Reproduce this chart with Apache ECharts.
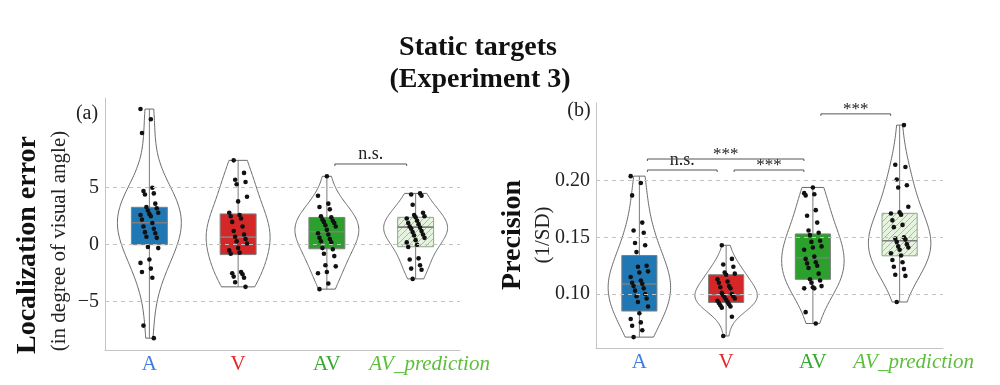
<!DOCTYPE html>
<html><head><meta charset="utf-8">
<script src="https://cdn.jsdelivr.net/npm/echarts@6/dist/echarts.min.js"></script>
<style>html,body{margin:0;padding:0;background:#fff}#c{width:1000px;height:385px}</style>
</head><body><div id="c"></div>
<script>
const categories = ['A', 'V', 'AV', 'AV_prediction'];

// Panel (a): localization error (deg)
const locA = [11.9, 11.0, 9.8, 5.0, 4.7, 4.5, 4.4, 3.6, 3.3, 3.2, 3.0, 2.8, 2.7, 2.6, 2.5, 2.2, 1.9, 1.6, 1.4, 1.1, 1.0, 0.7, 0.6, -0.2, -0.3, -1.3, -1.6, -2.1, -2.4, -2.9, -7.1, -8.2];
const locV = [7.4, 6.3, 5.7, 5.5, 5.3, 4.2, 3.8, 2.8, 2.6, 2.5, 2.3, 2.0, 1.6, 1.2, 0.9, 0.7, 0.5, 0.3, 0.1, -0.3, -0.5, -0.7, -0.8, -2.4, -2.5, -2.6, -2.8, -2.9, -3.3, -3.7];
const locAV = [6.0, 4.3, 3.6, 3.3, 3.1, 2.5, 2.4, 2.2, 2.1, 2.0, 1.9, 1.7, 1.6, 1.3, 1.0, 0.9, 0.6, 0.5, 0.3, 0.2, -0.3, -0.4, -0.8, -1.0, -1.8, -1.9, -2.4, -2.5, -3.4, -3.9];
const locAVP = [4.5, 4.4, 4.3, 3.5, 2.8, 2.6, 2.5, 2.4, 2.3, 2.1, 1.9, 1.8, 1.6, 1.5, 1.4, 1.2, 1.1, 0.9, 0.8, 0.6, 0.4, 0.2, 0.0, -0.2, -1.2, -1.3, -1.8, -2.1, -2.2, -3.0];
const locQ1 = [0.0, -0.87, -0.36, -0.18];
const locMedian = [1.93, 0.66, 1.13, 1.54];
const locQ3 = [3.28, 2.7, 2.39, 2.4];
const locTicks = [-5, 0, 5];
const locSigFrom = [2];
const locSigTo = [3];
const locSigLevel = [7.08];
const locSigText = ['n.s.'];

// Panel (b): precision (1/SD)
const precA = [0.204, 0.198, 0.187, 0.163, 0.156, 0.154, 0.145, 0.143, 0.137, 0.125, 0.124, 0.120, 0.119, 0.115, 0.112, 0.110, 0.109, 0.107, 0.105, 0.103, 0.100, 0.098, 0.096, 0.093, 0.089, 0.083, 0.078, 0.075, 0.072, 0.068, 0.062];
const precV = [0.143, 0.131, 0.126, 0.124, 0.119, 0.118, 0.117, 0.113, 0.111, 0.110, 0.107, 0.106, 0.105, 0.101, 0.100, 0.099, 0.098, 0.097, 0.096, 0.095, 0.094, 0.093, 0.092, 0.091, 0.090, 0.089, 0.088, 0.080, 0.063];
const precAV = [0.194, 0.189, 0.188, 0.187, 0.174, 0.169, 0.163, 0.156, 0.154, 0.152, 0.147, 0.146, 0.142, 0.141, 0.139, 0.133, 0.131, 0.128, 0.127, 0.125, 0.123, 0.118, 0.113, 0.112, 0.110, 0.107, 0.106, 0.105, 0.105, 0.084, 0.074];
const precAVP = [0.249, 0.214, 0.212, 0.201, 0.196, 0.194, 0.177, 0.172, 0.171, 0.170, 0.165, 0.161, 0.159, 0.150, 0.149, 0.148, 0.146, 0.144, 0.142, 0.141, 0.139, 0.136, 0.134, 0.130, 0.128, 0.124, 0.122, 0.117, 0.116, 0.093];
const precQ1 = [0.085, 0.0925, 0.113, 0.1337];
const precMedian = [0.1088, 0.0993, 0.132, 0.147];
const precQ3 = [0.134, 0.117, 0.153, 0.1712];
const precTicks = [0.10, 0.15, 0.20];
const precSigFrom = [0, 1, 0, 2];
const precSigTo = [1, 2, 2, 3];
const precSigLevel = [0.2094, 0.2094, 0.2191, 0.2589];
const precSigText = ['n.s.', '***', '***', '***'];

const SERIF = 'Liberation Serif';
const boxColors = ['#1f77b4', '#d62728', '#2ca02c', null];
const labelColors = ['#3f7be0', '#e3262a', '#35a82f', '#5cbf3a'];

function hatchCanvas() {
  const c = document.createElement('canvas');
  c.width = 6; c.height = 6;
  const g = c.getContext('2d');
  g.fillStyle = '#e5f3df'; g.fillRect(0, 0, 6, 6);
  g.strokeStyle = '#8fcd88'; g.lineWidth = 1;
  g.beginPath();
  g.moveTo(0, 6); g.lineTo(6, 0);
  g.moveTo(-1, 1); g.lineTo(1, -1);
  g.moveTo(5, 7); g.lineTo(7, 5);
  g.stroke();
  return c;
}
const hatch = { image: hatchCanvas(), repeat: 'repeat' };

function kde(vals, steps) {
  const n = vals.length;
  const mean = vals.reduce((a, b) => a + b, 0) / n;
  const sd = Math.sqrt(vals.reduce((a, b) => a + (b - mean) * (b - mean), 0) / (n - 1));
  const bw = 1.25 * sd * Math.pow(n, -0.2);
  const lo = Math.min(...vals), hi = Math.max(...vals);
  const out = [];
  let mx = 0;
  for (let i = 0; i <= steps; i++) {
    const v = lo + (hi - lo) * i / steps;
    let d = 0;
    for (const x of vals) { const z = (v - x) / bw; d += Math.exp(-0.5 * z * z); }
    out.push([v, d]);
    if (d > mx) mx = d;
  }
  return out.map(([v, d]) => [v, d / mx]);
}

function violinRender(groups) {
  return function (params, api) {
    const ci = api.value(0);
    const dens = kde(groups[ci], 100);
    const band = api.size([1, 0])[0];
    const hw = band * 0.36;
    const cx = api.coord([ci, 0])[0];
    const left = [], right = [];
    dens.forEach(([v, d]) => {
      const y = api.coord([ci, v])[1];
      left.push([cx - d * hw, y]);
      right.push([cx + d * hw, y]);
    });
    return { type: 'polygon', shape: { points: left.concat(right.reverse()) },
      style: { fill: 'none', stroke: '#6a6a6a', lineWidth: 1 } };
  };
}

function boxRender(groups, q1, med, q3) {
  return function (params, api) {
    const ci = api.value(0);
    const vals = groups[ci];
    const band = api.size([1, 0])[0];
    const bw = band * 0.405;
    const cx = api.coord([ci, 0])[0];
    const yMin = api.coord([ci, Math.min(...vals)])[1];
    const yMax = api.coord([ci, Math.max(...vals)])[1];
    const yQ1 = api.coord([ci, q1[ci]])[1];
    const yQ3 = api.coord([ci, q3[ci]])[1];
    const yMed = api.coord([ci, med[ci]])[1];
    return { type: 'group', children: [
      { type: 'line', shape: { x1: cx, y1: yMin, x2: cx, y2: yMax }, style: { stroke: '#7a7a7a', lineWidth: 1 } },
      { type: 'rect', shape: { x: cx - bw / 2, y: yQ3, width: bw, height: yQ1 - yQ3 },
        style: { fill: boxColors[ci] || hatch, stroke: boxColors[ci] ? '#7f7f7f' : '#8aa886', lineWidth: 1 } },
      { type: 'line', shape: { x1: cx - bw / 2, y1: yMed, x2: cx + bw / 2, y2: yMed }, style: { stroke: '#7f7f7f', lineWidth: 1.6 } }
    ] };
  };
}

function pointsData(groups) {
  const d = [];
  groups.forEach((g, ci) => g.forEach((v, i) => d.push([ci, v, i])));
  return d;
}
function pointRender(params, api) {
  const ci = api.value(0), v = api.value(1), i = api.value(2);
  const band = api.size([1, 0])[0];
  const jit = ((((i * 7 + ci * 3) % 13) / 12) - 0.5) * 0.2 * band;
  const p = api.coord([ci, v]);
  return { type: 'circle', shape: { cx: p[0] + jit, cy: p[1], r: 2.3 }, style: { fill: '#111' } };
}

function sigRender(texts) {
  return function (params, api) {
    const a = api.coord([api.value(0), api.value(2)]);
    const b = api.coord([api.value(1), api.value(2)]);
    const x1 = a[0] + 8, x2 = b[0] - 9, y = a[1];
    const t = texts[params.dataIndex];
    const stars = t.indexOf('*') >= 0;
    return { type: 'group', children: [
      { type: 'polyline', shape: { points: [[x1, y + 2], [x1, y], [x2, y], [x2, y + 2]] }, style: { stroke: '#555', lineWidth: 1, fill: 'none' } },
      { type: 'text', style: { x: (x1 + x2) / 2, y: stars ? y + 4 : y - 1, text: t, textAlign: 'center', textVerticalAlign: 'bottom',
        font: (stars ? '17px' : '18px') + ' "Liberation Serif"', fill: '#222' } }
    ] };
  };
}

function panelSeries(idx, groups, q1, med, q3, ticks, sf, st, sl, stext) {
  return [
    { type: 'custom', xAxisIndex: idx, yAxisIndex: idx, z: 1, silent: true,
      data: categories.map((c, i) => [i]), renderItem: violinRender(groups),
      markLine: { silent: true, symbol: 'none', label: { show: false },
        lineStyle: { color: '#c2c2c2', type: [4, 4], width: 1 },
        data: ticks.map(t => ({ yAxis: t })) } },
    { type: 'custom', xAxisIndex: idx, yAxisIndex: idx, z: 3, silent: true,
      data: categories.map((c, i) => [i]), renderItem: boxRender(groups, q1, med, q3) },
    { type: 'custom', xAxisIndex: idx, yAxisIndex: idx, z: 4, silent: true,
      data: pointsData(groups), renderItem: pointRender },
    { type: 'custom', xAxisIndex: idx, yAxisIndex: idx, z: 4, silent: true,
      data: sf.map((f, i) => [f, st[i], sl[i]]), renderItem: sigRender(stext) }
  ];
}

const rich = {};
labelColors.forEach((c, i) => {
  rich['c' + i] = { color: c, fontFamily: SERIF, fontSize: 21, fontStyle: i === 3 ? 'italic' : 'normal',
    padding: i === 3 ? [0, 0, 0, 28] : 0 };
});

function xAxisCfg(idx) {
  return { type: 'category', gridIndex: idx, data: categories, boundaryGap: true,
    axisLine: { onZero: false, lineStyle: { color: '#c4c4c4', width: 1 } }, axisTick: { show: false },
    axisLabel: { margin: 4, formatter: (v, i) => '{c' + i + '|' + v + '}', rich: rich, interval: 0 } };
}
function yAxisCfg(idx, min, max, ticks, fmt) {
  return { type: 'value', gridIndex: idx, min: min, max: max,
    axisLine: { show: true, onZero: false, lineStyle: { color: '#c4c4c4', width: 1 } }, axisTick: { show: false },
    splitLine: { show: false },
    axisLabel: { customValues: ticks, formatter: fmt, color: '#222', fontFamily: SERIF, fontSize: 20, margin: 6 } };
}

const chart = echarts.init(document.getElementById('c'), null, { renderer: 'canvas' });
chart.setOption({
  backgroundColor: '#fff',
  animation: false,
  grid: [
    { left: 105, right: 540, top: 98, bottom: 35 },
    { left: 596, right: 57, top: 103, bottom: 37 }
  ],
  xAxis: [xAxisCfg(0), xAxisCfg(1)],
  yAxis: [
    yAxisCfg(0, -9.24, 12.87, locTicks, v => String(v).replace('-', '\u2212')),
    yAxisCfg(1, 0.0524, 0.2685, precTicks, v => v.toFixed(2))
  ],
  series: [].concat(
    panelSeries(0, [locA, locV, locAV, locAVP], locQ1, locMedian, locQ3, locTicks, locSigFrom, locSigTo, locSigLevel, locSigText),
    panelSeries(1, [precA, precV, precAV, precAVP], precQ1, precMedian, precQ3, precTicks, precSigFrom, precSigTo, precSigLevel, precSigText)
  ),
  graphic: [
    { type: 'text', x: 478, y: 48, style: { text: 'Static targets', textAlign: 'center', textVerticalAlign: 'middle', font: 'bold 28px "Liberation Serif"', fill: '#111' } },
    { type: 'text', x: 480, y: 80, style: { text: '(Experiment 3)', textAlign: 'center', textVerticalAlign: 'middle', font: 'bold 28px "Liberation Serif"', fill: '#111' } },
    { type: 'text', x: 87, y: 114, style: { text: '(a)', textAlign: 'center', textVerticalAlign: 'middle', font: '20px "Liberation Serif"', fill: '#222' } },
    { type: 'text', x: 579, y: 111, style: { text: '(b)', textAlign: 'center', textVerticalAlign: 'middle', font: '20px "Liberation Serif"', fill: '#222' } },
    { type: 'text', x: 28, y: 245, rotation: Math.PI / 2, style: { text: 'Localization error', textAlign: 'center', textVerticalAlign: 'middle', font: 'bold 28px "Liberation Serif"', fill: '#111' } },
    { type: 'text', x: 59, y: 241, rotation: Math.PI / 2, style: { text: '(in degree of visual angle)', textAlign: 'center', textVerticalAlign: 'middle', font: '21px "Liberation Serif"', fill: '#222' } },
    { type: 'text', x: 513, y: 235, rotation: Math.PI / 2, style: { text: 'Precision', textAlign: 'center', textVerticalAlign: 'middle', font: 'bold 28px "Liberation Serif"', fill: '#111' } },
    { type: 'text', x: 543, y: 235, rotation: Math.PI / 2, style: { text: '(1/SD)', textAlign: 'center', textVerticalAlign: 'middle', font: '21px "Liberation Serif"', fill: '#222' } }
  ]
});
</script></body></html>
